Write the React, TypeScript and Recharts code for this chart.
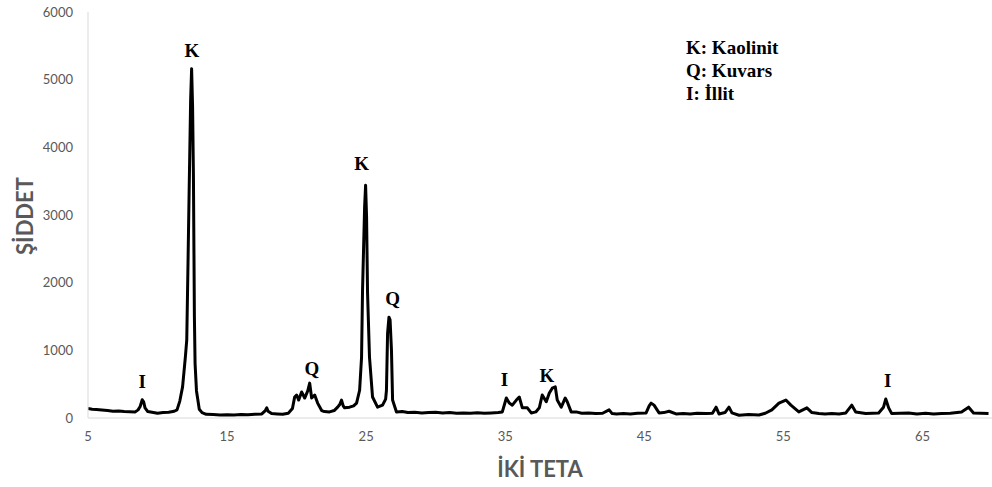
import React from 'react'
import { ComposedChart, Line, Scatter, XAxis, YAxis } from 'recharts'

// 2θ positions (degrees)
const twoTheta = [
  5.0, 5.3, 5.6, 6.0, 6.4, 6.8, 7.2, 7.6, 8.0, 8.4, 8.6, 8.75, 8.9, 9.0, 9.1, 9.3, 9.6, 10.0, 10.4, 10.8,
  11.2, 11.4, 11.6, 11.8, 12.0, 12.1, 12.2, 12.28, 12.38, 12.45, 12.52, 12.58, 12.65, 12.7, 12.8, 12.9, 13.0, 13.2, 13.5, 14.0,
  14.5, 15.0, 15.5, 16.0, 16.5, 17.0, 17.5, 17.75, 17.85, 17.95, 18.2, 18.6, 19.0, 19.4, 19.7, 19.86, 20.0, 20.15, 20.36, 20.58,
  20.8, 20.94, 21.08, 21.3, 21.51, 21.8, 22.0, 22.37, 22.7, 22.95, 23.1, 23.23, 23.35, 23.45, 23.81, 24.1, 24.31, 24.53, 24.67, 24.74,
  24.89, 24.96, 25.03, 25.1, 25.24, 25.46, 25.82, 26.18, 26.4, 26.46, 26.54, 26.64, 26.72, 26.82, 26.9, 27.18, 27.6, 28.0, 28.5, 29.0,
  29.5, 30.0, 30.5, 31.0, 31.5, 32.0, 32.5, 33.0, 33.5, 34.0, 34.5, 34.79, 35.08, 35.29, 35.51, 35.8, 36.01, 36.23, 36.59, 36.87,
  37.2, 37.45, 37.66, 37.95, 38.17, 38.38, 38.6, 38.74, 39.03, 39.31, 39.46, 39.74, 40.1, 40.5, 41.0, 41.5, 42.0, 42.47, 42.69, 43.0,
  43.5, 44.0, 44.5, 45.13, 45.35, 45.49, 45.7, 46.06, 46.4, 46.78, 47.28, 47.8, 48.3, 48.8, 49.44, 49.9, 50.16, 50.37, 50.8, 51.09,
  51.3, 51.81, 52.5, 53.24, 53.7, 54.17, 54.68, 55.18, 55.54, 56.11, 56.69, 57.05, 57.55, 58.0, 58.48, 59.0, 59.49, 59.92, 60.2, 60.92,
  61.4, 61.85, 62.2, 62.36, 62.57, 62.79, 63.4, 64.01, 64.6, 65.23, 65.8, 66.38, 67.0, 67.81, 68.32, 68.67, 69.2, 69.75,
]

// intensity (counts) at each 2θ
const intensity = [
  140, 130, 125, 118, 110, 100, 105, 95, 92, 90, 120, 170, 270, 240, 150, 95, 85, 70, 80, 85,
  100, 120, 250, 460, 900, 1150, 2400, 3450, 4700, 5160, 4600, 3600, 1500, 800, 400, 265, 130, 80, 55, 50,
  45, 48, 45, 50, 48, 55, 60, 110, 150, 100, 65, 60, 55, 70, 140, 310, 340, 265, 385, 295,
  400, 515, 295, 340, 220, 110, 95, 90, 110, 160, 200, 265, 180, 150, 160, 180, 220, 410, 900, 1890,
  3120, 3440, 2970, 1850, 900, 310, 160, 190, 280, 410, 1250, 1490, 1450, 1000, 265, 90, 95, 80, 85, 75,
  80, 85, 75, 80, 70, 75, 70, 78, 72, 75, 80, 90, 295, 220, 190, 265, 310, 150, 150, 75,
  90, 150, 340, 240, 370, 440, 460, 265, 160, 295, 240, 90, 90, 70, 75, 65, 70, 120, 65, 60,
  65, 60, 70, 75, 180, 220, 190, 75, 80, 100, 60, 65, 60, 70, 65, 70, 160, 60, 80, 160,
  75, 40, 50, 45, 70, 120, 220, 265, 190, 90, 150, 80, 65, 60, 65, 60, 75, 190, 90, 65,
  70, 75, 160, 280, 150, 65, 70, 75, 60, 70, 60, 65, 70, 90, 160, 75, 70, 65,
]

const xTicks = [5, 15, 25, 35, 45, 55, 65]
const yTicks = [0, 1000, 2000, 3000, 4000, 5000, 6000]

// peak markers: mineral letter, 2θ and the height of its baseline
const peakNames = ['I', 'K', 'Q', 'K', 'Q', 'I', 'K', 'I']
const peakTheta = [8.9, 12.47, 21.1, 24.67, 26.9, 34.94, 38.0, 62.5]
const peakLevel = [443, 5332, 635, 3663, 1669, 473, 532, 458]

const legendLines = ['K: Kaolinit', 'Q: Kuvars', 'I: İllit']

const data = twoTheta.map((t, i) => ({ t, v: intensity[i] }))
const labels = peakNames.map((name, i) => ({ t: peakTheta[i], v: peakLevel[i], name }))

const tickStyle = { fill: '#595959', fontSize: 13, fontFamily: 'Lato, sans-serif' }
const titleStyle: React.CSSProperties = { fill: '#595959', fontSize: 22, fontWeight: 700, fontFamily: 'Lato, sans-serif' }
const serifBold = { fontFamily: '"Liberation Serif", serif', fontWeight: 700, fill: '#000' }

const PeakLabel = (props: any) => {
  const { cx, cy, payload } = props
  return (
    <text x={cx} y={cy} textAnchor="middle" fontSize={19} style={serifBold}>
      {payload.name}
    </text>
  )
}

export default function App() {
  return (
    <div style={{ position: 'absolute', left: 0, top: 0, width: 992, height: 487, background: '#fff' }}>
      <ComposedChart width={992} height={487} data={data} margin={{ top: 12, right: 0, bottom: 39, left: 28 }}>
        <XAxis
          dataKey="t"
          type="number"
          domain={[5, 70]}
          ticks={xTicks}
          tickLine={false}
          axisLine={{ stroke: '#d9d9d9' }}
          tick={tickStyle}
          tickMargin={8}
          height={30}
          allowDataOverflow
        />
        <YAxis
          type="number"
          domain={[0, 6000]}
          ticks={yTicks}
          tickLine={false}
          axisLine={{ stroke: '#d9d9d9' }}
          tick={tickStyle}
          tickMargin={9}
          width={60}
        />
        <Line
          dataKey="v"
          type="linear"
          stroke="#000"
          strokeWidth={3}
          strokeLinejoin="round"
          dot={false}
          activeDot={false}
          isAnimationActive={false}
        />
        <Scatter data={labels} dataKey="v" shape={<PeakLabel />} isAnimationActive={false} />
      </ComposedChart>
      <svg width={992} height={487} style={{ position: 'absolute', left: 0, top: 0, pointerEvents: 'none' }}>
        <text x={540} y={477} textAnchor="middle" style={titleStyle}>İKİ TETA</text>
        <text transform="translate(33,216) rotate(-90)" textAnchor="middle" style={titleStyle}>ŞİDDET</text>
        {legendLines.map((line, i) => (
          <text key={line} x={686} y={54 + i * 23} fontSize={19} style={serifBold}>
            {line}
          </text>
        ))}
      </svg>
    </div>
  )
}
